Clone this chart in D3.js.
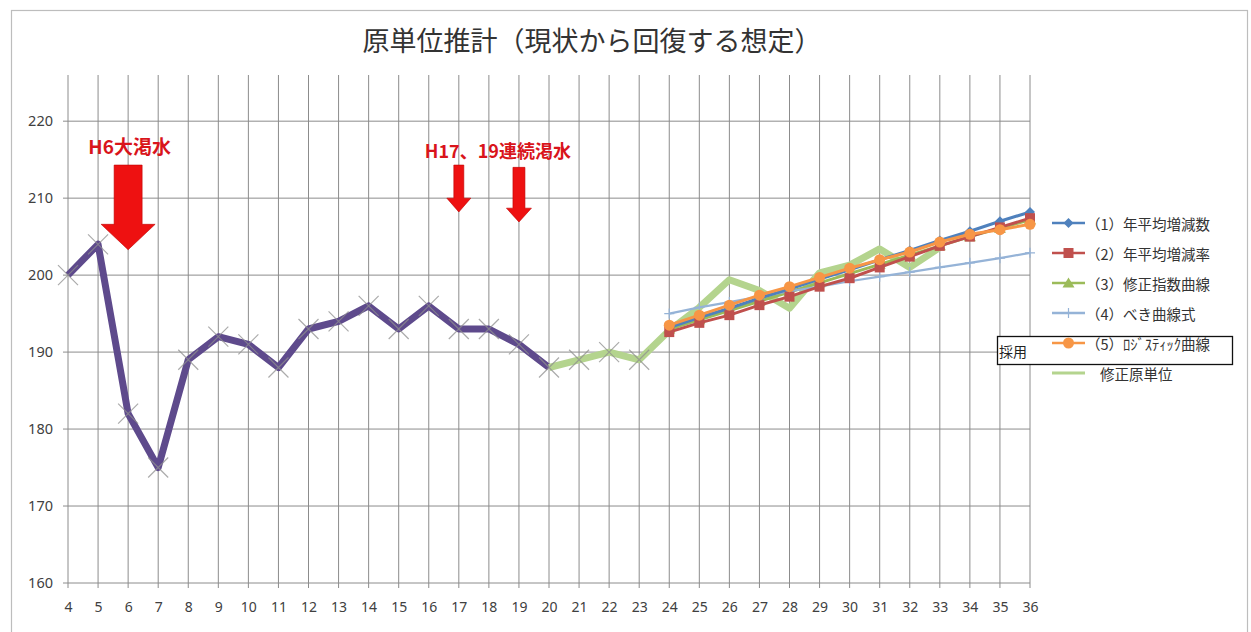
<!DOCTYPE html>
<html>
<head>
<meta charset="utf-8">
<script src="https://cdn.jsdelivr.net/npm/d3@7"></script>
<style>
  html, body { margin: 0; padding: 0; background: #fff; }
  svg { display: block; font-family: "Noto Sans CJK JP", "Noto Sans", sans-serif; }
</style>
</head>
<body>
<svg id="chart" width="1251" height="632"></svg>
<script>
// Fiscal years (Heisei) on the x axis
const xTicks = d3.range(4, 37);
const yTicks = [160, 170, 180, 190, 200, 210, 220];

// Actual unit consumption, H4–H23 (line drawn through H20)
const actualYears = d3.range(4, 24);
const actualValues = [200, 204, 182, 175, 189, 192, 191, 188, 193, 194, 196, 193, 196, 193, 193, 191, 188, 189, 190, 189];

// Revised unit consumption, H20–H33
const revisedYears = d3.range(20, 34);
const revisedValues = [188, 189, 190, 189, 192.8, 195.8, 199.4, 198, 195.7, 200.3, 201.3, 203.4, 201, 203.6];

// Projection years and the five estimates
const projYears = d3.range(24, 37);
const s1Values = [193.2, 194.5, 195.7, 197.0, 198.2, 199.5, 200.7, 202.0, 203.2, 204.5, 205.7, 207.0, 208.2];
const s2Values = [192.6, 193.8, 194.8, 196.1, 197.2, 198.5, 199.6, 201.0, 202.4, 203.8, 205.0, 206.2, 207.4];
const s3Values = [193.0, 194.2, 195.4, 196.6, 197.8, 199.0, 200.2, 201.4, 202.6, 203.8, 205.0, 206.1, 207.2];
const s4Values = [195.0, 195.8, 196.5, 197.2, 197.9, 198.5, 199.2, 199.8, 200.4, 201.0, 201.6, 202.2, 202.9];
const s5Values = [193.5, 194.8, 196.1, 197.4, 198.5, 199.7, 200.9, 202.0, 203.0, 204.3, 205.3, 205.9, 206.6];

const seriesNames = ["（1）年平均増減数", "（2）年平均増減率", "（3）修正指数曲線", "（4）べき曲線式", "（5）ﾛｼﾞｽﾃｨｯｸ曲線", "修正原単位"];
const seriesColors = ["#4F81BD", "#C0504D", "#9BBB59", "#95B3D7", "#F79646", "#B4D48E"];
const seriesMarkers = ["diamond", "square", "triangle", "plus", "circle", "none"];

const title = "原単位推計（現状から回復する想定）";

// Drought annotations: year, arrow top / head start / tip (in y units), half widths
const droughtLabels = [
  { text: "H6大渇水", x: 6.05, y: 216.9, size: 19 },
  { text: "H17、19連続渇水", x: 18.3, y: 216.2, size: 18 }
];
const droughtArrows = [
  { x: 6, top: 214.3, neck: 206.6, tip: 203.3, shaft: 14, head: 27 },
  { x: 17, top: 214.3, neck: 210.0, tip: 208.2, shaft: 5, head: 12 },
  { x: 19, top: 214.0, neck: 208.7, tip: 206.9, shaft: 6, head: 12.5 }
];

const svg = d3.select("#chart");
const x = d3.scaleLinear().domain([4, 36]).range([68, 1030]);
const y = d3.scaleLinear().domain([160, 226]).range([583, 75]);

// Outer chart frame
svg.append("rect").attr("x", 11.5).attr("y", 10.5).attr("width", 1236).attr("height", 640)
  .attr("fill", "#fff").attr("stroke", "#bdbdbd").attr("stroke-width", 1.2);

// Title
svg.append("text").attr("x", 592).attr("y", 51).attr("text-anchor", "middle")
  .attr("font-size", 27).attr("fill", "#333").text(title);

// Grid
const grid = svg.append("g").attr("stroke", "#8c8c8c").attr("stroke-width", 1);
grid.selectAll(".vg").data(xTicks).join("line")
  .attr("x1", d => x(d)).attr("x2", d => x(d))
  .attr("y1", y(226)).attr("y2", y(160) + 5);
grid.selectAll(".hg").data(yTicks).join("line")
  .attr("x1", x(4) - 5).attr("x2", x(36))
  .attr("y1", d => y(d)).attr("y2", d => y(d));

// Axes labels
const yAxis = d3.axisLeft(y).tickValues(yTicks).tickSize(0).tickPadding(15);
svg.append("g").attr("transform", `translate(${x(4)},0)`).call(yAxis)
  .call(g => g.select(".domain").remove())
  .call(g => g.selectAll("text").attr("font-size", 14.5).attr("fill", "#404040")
    .attr("font-family", "'Noto Sans', sans-serif"));
const xAxis = d3.axisBottom(x).tickValues(xTicks).tickSize(0).tickPadding(19).tickFormat(d3.format("d"));
svg.append("g").attr("transform", `translate(0,${y(160)})`).call(xAxis)
  .call(g => g.select(".domain").remove())
  .call(g => g.selectAll("text").attr("font-size", 14).attr("fill", "#404040")
    .attr("font-family", "'Noto Sans', sans-serif"));

const line = d3.line().x(d => x(d[0])).y(d => y(d[1]));

// Actual values: thick purple line with grey crosses
const actualPts = actualYears.map((yr, i) => [yr, actualValues[i]]);
svg.append("path").datum(actualPts.filter(d => d[0] <= 20)).attr("d", line)
  .attr("fill", "none").attr("stroke", "#5E4A8C").attr("stroke-width", 7)
  .attr("stroke-linejoin", "round");

// Revised unit consumption: thick light green line
const revisedPts = revisedYears.map((yr, i) => [yr, revisedValues[i]]);
svg.append("path").datum(revisedPts).attr("d", line)
  .attr("fill", "none").attr("stroke", seriesColors[5]).attr("stroke-width", 7)
  .attr("stroke-linejoin", "round");

const crossSize = 10;
svg.append("g").selectAll("path").data(actualPts).join("path")
  .attr("d", d => {
    const cx = x(d[0]), cy = y(d[1]);
    return `M${cx - crossSize},${cy - crossSize}L${cx + crossSize},${cy + crossSize}M${cx - crossSize},${cy + crossSize}L${cx + crossSize},${cy - crossSize}`;
  })
  .attr("stroke", "#8f8f8f").attr("stroke-opacity", 0.75).attr("stroke-width", 1.2).attr("fill", "none");

// Marker shapes
function marker(g, type, cx, cy, color) {
  if (type === "diamond") {
    g.append("path").attr("d", `M${cx},${cy - 5}L${cx + 5},${cy}L${cx},${cy + 5}L${cx - 5},${cy}Z`).attr("fill", color);
  } else if (type === "square") {
    g.append("rect").attr("x", cx - 5).attr("y", cy - 5).attr("width", 10).attr("height", 10).attr("fill", color);
  } else if (type === "triangle") {
    g.append("path").attr("d", `M${cx},${cy - 5.5}L${cx + 6},${cy + 4.5}L${cx - 6},${cy + 4.5}Z`).attr("fill", color);
  } else if (type === "plus") {
    g.append("path").attr("d", `M${cx - 5},${cy}L${cx + 5},${cy}M${cx},${cy - 5}L${cx},${cy + 5}`)
      .attr("stroke", color).attr("stroke-width", 1.2);
  } else if (type === "circle") {
    g.append("circle").attr("cx", cx).attr("cy", cy).attr("r", 5.5).attr("fill", color);
  }
}

// Projection series
const projSeries = [s3Values, s4Values, s1Values, s2Values, s5Values];
const projIdx = [2, 3, 0, 1, 4];
projSeries.forEach((vals, k) => {
  const i = projIdx[k];
  const pts = projYears.map((yr, j) => [yr, vals[j]]);
  const g = svg.append("g");
  g.append("path").datum(pts).attr("d", line).attr("fill", "none")
    .attr("stroke", seriesColors[i]).attr("stroke-width", i === 3 ? 2.2 : 3);
  pts.forEach(p => marker(g, seriesMarkers[i], x(p[0]), y(p[1]), seriesColors[i]));
});

// Drought arrows and labels
svg.append("g").selectAll("path").data(droughtArrows).join("path")
  .attr("d", a => {
    const cx = x(a.x);
    return `M${cx - a.shaft},${y(a.top)}L${cx + a.shaft},${y(a.top)}L${cx + a.shaft},${y(a.neck)}` +
      `L${cx + a.head},${y(a.neck)}L${cx},${y(a.tip)}L${cx - a.head},${y(a.neck)}L${cx - a.shaft},${y(a.neck)}Z`;
  })
  .attr("fill", "#ee1111").attr("stroke", "#c00000").attr("stroke-width", 0.6);
svg.append("g").selectAll("text").data(droughtLabels).join("text")
  .attr("x", d => x(d.x)).attr("y", d => y(d.y)).attr("text-anchor", "middle")
  .attr("dominant-baseline", "central").attr("font-size", d => d.size)
  .attr("font-weight", "bold").attr("fill", "#d9141b").text(d => d.text);

// Legend
const legendYs = [223, 253, 283, 313, 343, 373];
const legend = svg.append("g");
// "採用" box behind the logistic entry
legend.append("rect").attr("x", 997.5).attr("y", 336.5).attr("width", 235).attr("height", 28)
  .attr("fill", "#fff").attr("stroke", "#111").attr("stroke-width", 1.3);
legend.append("text").attr("x", 999).attr("y", 351).attr("dominant-baseline", "central")
  .attr("font-size", 14).attr("fill", "#222").text("採用");
seriesNames.forEach((name, i) => {
  const ly = legendYs[i];
  legend.append("line").attr("x1", 1052).attr("x2", 1085).attr("y1", ly).attr("y2", ly)
    .attr("stroke", seriesColors[i]).attr("stroke-width", i === 5 ? 3 : 2.5);
  marker(legend, seriesMarkers[i], 1068.5, ly, seriesColors[i]);
  legend.append("text").attr("x", i === 5 ? 1100 : 1086).attr("y", ly).attr("dominant-baseline", "central")
    .attr("font-size", 14.5).attr("fill", "#333").text(name);
});
</script>
</body>
</html>
